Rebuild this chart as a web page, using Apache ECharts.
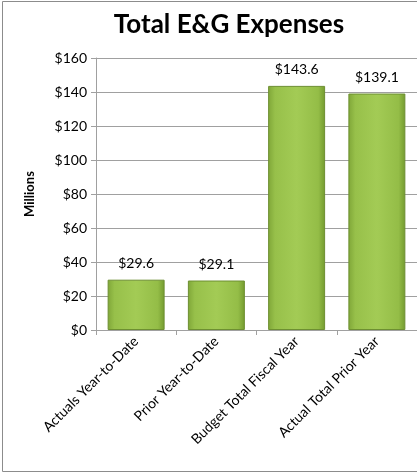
<!DOCTYPE html>
<html>
<head>
<meta charset="utf-8">
<script src="https://cdn.jsdelivr.net/npm/echarts@6/dist/echarts.min.js"></script>
<style>
html, body { margin: 0; padding: 0; background: #fff; }
#main { width: 417px; height: 474px; }
</style>
</head>
<body>
<div id="main"></div>
<script>
var categories = ['Actuals Year-to-Date', 'Prior Year-to-Date', 'Budget Total Fiscal Year', 'Actual Total Prior Year'];
var values = [29.6, 29.1, 143.6, 139.1];
var yTicks = [0, 20, 40, 60, 80, 100, 120, 140, 160];

var font = 'Lato, "Open Sans", sans-serif';
var myChart = echarts.init(document.getElementById('main'));

var barColor = new echarts.graphic.LinearGradient(0, 0, 1, 0, [
    { offset: 0, color: '#7fa638' },
    { offset: 0.12, color: '#97c04a' },
    { offset: 0.5, color: '#a3cb55' },
    { offset: 0.88, color: '#94bd47' },
    { offset: 1, color: '#739a2f' }
]);

var option = {
    animation: false,
    title: {
        text: 'Total E&G Expenses',
        left: 224,
        top: 7,
        textAlign: 'center',
        textStyle: { fontFamily: font, fontWeight: 'bold', fontSize: 26, color: '#000' }
    },
    graphic: [{
        type: 'rect',
        shape: { x: 2.5, y: 1.5, width: 430, height: 470 },
        style: { fill: 'none', stroke: '#8c8c8c', lineWidth: 1 },
        silent: true
    }],
    grid: { left: 96, top: 58, width: 322, height: 272 },
    xAxis: {
        type: 'category',
        data: categories,
        axisLine: { lineStyle: { color: '#a0a0a0', width: 1 } },
        axisTick: { show: true, length: 5, lineStyle: { color: '#a0a0a0' } },
        axisLabel: {
            interval: 0, rotate: 45, margin: 9,
            fontFamily: font, fontSize: 14, color: '#000'
        }
    },
    yAxis: {
        type: 'value',
        min: yTicks[0],
        max: yTicks[yTicks.length - 1],
        interval: 20,
        name: 'Millions',
        nameLocation: 'middle',
        nameGap: 60,
        nameTextStyle: { fontFamily: font, fontWeight: 'bold', fontSize: 13, color: '#000' },
        axisLine: { show: true, lineStyle: { color: '#a0a0a0', width: 1 } },
        axisTick: { show: true, length: 5, lineStyle: { color: '#a0a0a0' } },
        splitLine: { lineStyle: { color: '#a0a0a0', width: 1 } },
        axisLabel: {
            margin: 9,
            fontFamily: font, fontSize: 14, color: '#000',
            formatter: function (v) { return '$' + v; }
        }
    },
    series: [{
        type: 'bar',
        data: values,
        barWidth: '71%',
        itemStyle: { color: barColor, borderColor: '#6d8f31', borderWidth: 1 },
        label: {
            show: true,
            position: 'top',
            distance: 9,
            fontFamily: font, fontSize: 14, color: '#000',
            formatter: function (p) { return '$' + p.value.toFixed(1); }
        }
    }]
};
myChart.setOption(option);
</script>
</body>
</html>
